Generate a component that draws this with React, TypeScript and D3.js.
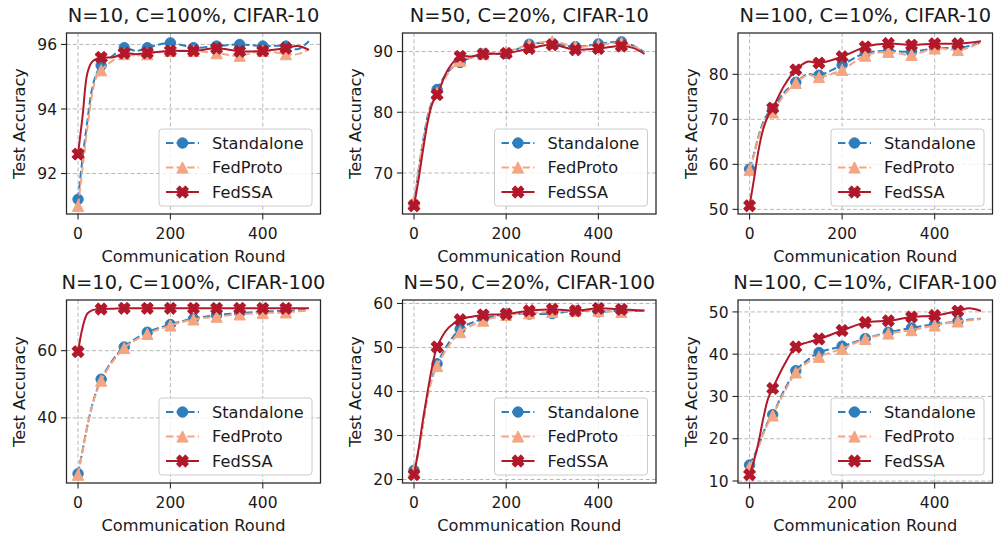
import React from "react";
import * as d3 from "d3";

const ROUNDS = [0, 10, 20, 30, 40, 50, 75, 100, 125, 150, 200, 250, 300, 350, 400, 450, 475, 500];
const MARK_ROUNDS = [0, 50, 100, 150, 200, 250, 300, 350, 400, 450];
const X_TICKS = [0, 200, 400];
const SERIES_NAMES = ["Standalone", "FedProto", "FedSSA"];

const TITLES = [
  "N=10, C=100%, CIFAR-10",
  "N=50, C=20%, CIFAR-10",
  "N=100, C=10%, CIFAR-10",
  "N=10, C=100%, CIFAR-100",
  "N=50, C=20%, CIFAR-100",
  "N=100, C=10%, CIFAR-100",
];

const Y_TICKS = [
  [92, 94, 96],
  [70, 80, 90],
  [50, 60, 70, 80],
  [40, 60],
  [20, 30, 40, 50, 60],
  [10, 20, 30, 40, 50],
];

// Panel 1: N=10, C=100%, CIFAR-10
const p1Standalone = [91.2, 92.5, 93.6, 94.6, 95.1, 95.35, 95.65, 95.9, 95.8, 95.9, 96.05, 95.9, 95.95, 96.0, 95.95, 95.95, 95.85, 96.1];
const p1FedProto = [91.0, 92.2, 93.4, 94.4, 95.0, 95.2, 95.5, 95.7, 95.65, 95.7, 95.8, 95.8, 95.73, 95.65, 95.8, 95.7, 95.7, 95.85];
const p1FedSSA = [92.6, 93.8, 95.1, 95.45, 95.55, 95.6, 95.6, 95.73, 95.7, 95.74, 95.8, 95.8, 95.88, 95.79, 95.8, 95.88, 95.95, 95.83];

// Panel 2: N=50, C=20%, CIFAR-10
const p2Standalone = [64.9, 70.5, 75.5, 79.5, 82.0, 83.75, 86.8, 88.2, 89.0, 89.6, 89.7, 91.2, 91.35, 90.8, 91.25, 91.6, 91.0, 89.9];
const p2FedProto = [65.3, 70.5, 75.2, 79.2, 81.7, 83.2, 86.5, 88.5, 89.0, 89.6, 90.0, 91.1, 91.7, 90.8, 91.1, 91.4, 90.9, 90.0];
const p2FedSSA = [64.6, 69.0, 74.0, 78.5, 81.5, 82.9, 87.2, 89.2, 89.2, 89.6, 89.7, 90.5, 91.1, 90.3, 90.5, 90.9, 90.6, 89.6];

// Panel 3: N=100, C=10%, CIFAR-10
const p3Standalone = [58.95, 62.5, 66.5, 69.5, 71.3, 72.3, 76.0, 78.25, 80.0, 79.8, 82.1, 84.7, 85.2, 85.0, 85.75, 85.9, 86.3, 87.1];
const p3FedProto = [58.8, 62.3, 66.2, 69.0, 70.8, 71.55, 75.5, 78.1, 79.8, 79.4, 81.0, 84.15, 85.0, 84.3, 85.75, 85.4, 86.0, 87.1];
const p3FedSSA = [50.8, 57.0, 63.5, 68.0, 70.8, 72.5, 77.5, 81.0, 82.8, 82.5, 83.9, 86.1, 86.85, 86.5, 86.8, 86.8, 87.0, 87.35];

// Panel 4: N=10, C=100%, CIFAR-100
const p4Standalone = [23.4, 30.5, 37.5, 43.5, 48.0, 51.5, 57.2, 61.1, 63.6, 65.5, 67.8, 69.5, 70.6, 71.2, 71.6, 71.9, 72.0, 72.1];
const p4FedProto = [23.1, 30.2, 37.2, 43.2, 47.7, 51.1, 56.8, 60.8, 63.2, 65.0, 67.5, 69.3, 70.1, 70.8, 71.2, 71.4, 71.7, 71.9];
const p4FedSSA = [59.7, 67.0, 71.0, 72.0, 72.3, 72.4, 72.5, 72.6, 72.6, 72.6, 72.6, 72.6, 72.6, 72.6, 72.6, 72.6, 72.6, 72.6];

// Panel 5: N=50, C=20%, CIFAR-100
const p5Standalone = [22.1, 26.5, 33.0, 39.5, 43.5, 46.3, 51.0, 54.2, 55.6, 56.5, 57.6, 57.6, 57.7, 58.35, 58.1, 58.35, 58.3, 58.35];
const p5FedProto = [22.1, 26.3, 32.6, 39.0, 43.0, 45.8, 50.3, 53.5, 55.0, 56.1, 57.4, 57.8, 58.1, 58.35, 58.35, 58.1, 58.3, 58.5];
const p5FedSSA = [21.1, 27.0, 34.0, 40.3, 46.0, 50.1, 54.5, 56.3, 57.0, 57.4, 57.6, 58.35, 58.7, 58.35, 58.9, 58.65, 58.5, 58.35];

// Panel 6: N=100, C=10%, CIFAR-100
const p6Standalone = [13.8, 16.0, 18.5, 21.5, 24.0, 25.7, 31.5, 36.1, 38.6, 40.4, 41.9, 43.7, 45.2, 46.2, 47.1, 47.75, 48.2, 48.4];
const p6FedProto = [13.3, 15.6, 18.3, 21.2, 23.7, 25.5, 31.0, 35.7, 38.0, 39.4, 41.3, 43.6, 44.9, 45.7, 46.8, 47.75, 48.0, 48.3];
const p6FedSSA = [11.5, 15.0, 19.5, 25.0, 29.5, 31.9, 37.5, 41.7, 42.8, 43.6, 45.6, 47.5, 47.9, 48.8, 49.15, 50.2, 50.85, 50.2];

const PANEL_DATA = [
  [p1Standalone, p1FedProto, p1FedSSA],
  [p2Standalone, p2FedProto, p2FedSSA],
  [p3Standalone, p3FedProto, p3FedSSA],
  [p4Standalone, p4FedProto, p4FedSSA],
  [p5Standalone, p5FedProto, p5FedSSA],
  [p6Standalone, p6FedProto, p6FedSSA],
];

const COLORS = ["#2f7ebc", "#f4a582", "#b2182b"];
const DASHES = ["7.4,3.2", "7.4,3.2", null];

const COLS = [
  { l: 66.5, r: 320.5 },
  { l: 402.5, r: 656 },
  { l: 738, r: 992.5 },
];
const ROWS = [
  { t: 33, b: 214 },
  { t: 300, b: 483 },
];

const FONT = "DejaVu Sans, sans-serif";

function Marker({ kind, x, y, color }: { kind: number; x: number; y: number; color: string }) {
  if (kind === 0) {
    return <circle cx={x} cy={y} r={5.2} fill={color} stroke={color} strokeWidth={1} />;
  }
  if (kind === 1) {
    const s = 5.6;
    const pts = [
      [x, y - s],
      [x - s, y + s],
      [x + s, y + s],
    ];
    return <polygon points={pts.map((p) => p.join(",")).join(" ")} fill={color} stroke={color} strokeWidth={1} />;
  }
  const k = 11.5;
  const v = [
    [0.25, 0], [0.5, 0.25], [0.25, 0.5], [0, 0.25], [-0.25, 0.5], [-0.5, 0.25],
    [-0.25, 0], [-0.5, -0.25], [-0.25, -0.5], [0, -0.25], [0.25, -0.5], [0.5, -0.25],
  ];
  return (
    <polygon
      points={v.map((p) => `${x + p[0] * k},${y + p[1] * k}`).join(" ")}
      fill={color}
      stroke={color}
      strokeWidth={1.2}
      strokeLinejoin="round"
    />
  );
}

function Panel({ idx }: { idx: number }) {
  const col = COLS[idx % 3];
  const row = ROWS[Math.floor(idx / 3)];
  const series = PANEL_DATA[idx];
  const all = series.flat();
  const mn = d3.min(all) as number;
  const mx = d3.max(all) as number;
  const pad = (mx - mn) * 0.05;
  const x = d3.scaleLinear().domain([-25, 525]).range([col.l, col.r]);
  const y = d3.scaleLinear().domain([mn - pad, mx + pad]).range([row.b, row.t]);
  const line = d3
    .line<number>()
    .x((_, i) => x(ROUNDS[i]))
    .y((d) => y(d))
    .curve(d3.curveCatmullRom.alpha(0.5));
  const clipId = `clip${idx}`;
  const lgR = col.r - 8.5;
  const lgB = row.b - 8;
  const lgW = 153;
  const lgH = 77;
  const lgL = lgR - lgW;
  const lgT = lgB - lgH;
  const rowsY = [lgT + 14, lgT + 38.5, lgT + 63];
  const midY = (row.t + row.b) / 2;
  return (
    <g>
      <defs>
        <clipPath id={clipId}>
          <rect x={col.l} y={row.t} width={col.r - col.l} height={row.b - row.t} />
        </clipPath>
      </defs>
      {/* grid */}
      {X_TICKS.map((t) => (
        <line key={"gx" + t} x1={x(t)} x2={x(t)} y1={row.t} y2={row.b} stroke="#b0b0b0" strokeWidth={0.9} strokeDasharray="4,2.4" />
      ))}
      {Y_TICKS[idx].map((t) => (
        <line key={"gy" + t} x1={col.l} x2={col.r} y1={y(t)} y2={y(t)} stroke="#b0b0b0" strokeWidth={0.9} strokeDasharray="4,2.4" />
      ))}
      {/* series */}
      <g clipPath={`url(#${clipId})`}>
        {series.map((vals, si) => (
          <g key={si}>
            <path
              d={line(vals) || ""}
              fill="none"
              stroke={COLORS[si]}
              strokeWidth={2}
              strokeDasharray={DASHES[si] || undefined}
            />
            {MARK_ROUNDS.map((r) => {
              const i = ROUNDS.indexOf(r);
              return <Marker key={r} kind={si} x={x(r)} y={y(vals[i])} color={COLORS[si]} />;
            })}
          </g>
        ))}
      </g>
      {/* spines */}
      <rect x={col.l} y={row.t} width={col.r - col.l} height={row.b - row.t} fill="none" stroke="#262626" strokeWidth={1.25} />
      {/* x ticks */}
      {X_TICKS.map((t) => (
        <g key={"tx" + t}>
          <line x1={x(t)} x2={x(t)} y1={row.b} y2={row.b + 5.5} stroke="#262626" strokeWidth={1.1} />
          <text x={x(t)} y={row.b + 24.5} textAnchor="middle" fontSize={15.5} fontFamily={FONT} fill="#1a1a1a">
            {t}
          </text>
        </g>
      ))}
      {/* y ticks */}
      {Y_TICKS[idx].map((t) => (
        <g key={"ty" + t}>
          <line x1={col.l - 5.5} x2={col.l} y1={y(t)} y2={y(t)} stroke="#262626" strokeWidth={1.1} />
          <text x={col.l - 9.5} y={y(t) + 5.6} textAnchor="end" fontSize={15.5} fontFamily={FONT} fill="#1a1a1a">
            {t}
          </text>
        </g>
      ))}
      {/* labels */}
      <text x={(col.l + col.r) / 2} y={row.b + 47.5} textAnchor="middle" fontSize={16.2} fontFamily={FONT} fill="#1a1a1a">
        Communication Round
      </text>
      <text
        transform={`translate(${col.l - 41.5},${midY}) rotate(-90)`}
        textAnchor="middle"
        fontSize={16.2}
        fontFamily={FONT}
        fill="#1a1a1a"
      >
        Test Accuracy
      </text>
      <text x={(col.l + col.r) / 2} y={row.t - 11.3} textAnchor="middle" fontSize={19.4} fontFamily={FONT} fill="#1a1a1a">
        {TITLES[idx]}
      </text>
      {/* legend */}
      <rect x={lgL} y={lgT} width={lgW} height={lgH} rx={3} ry={3} fill="white" fillOpacity={0.8} stroke="#cccccc" strokeWidth={1} />
      {SERIES_NAMES.map((name, si) => (
        <g key={name}>
          <line
            x1={lgL + 7}
            x2={lgL + 40}
            y1={rowsY[si]}
            y2={rowsY[si]}
            stroke={COLORS[si]}
            strokeWidth={2}
            strokeDasharray={DASHES[si] || undefined}
          />
          <Marker kind={si} x={lgL + 23.5} y={rowsY[si]} color={COLORS[si]} />
          <text x={lgL + 53} y={rowsY[si] + 5.8} fontSize={16.2} fontFamily={FONT} fill="#1a1a1a">
            {name}
          </text>
        </g>
      ))}
    </g>
  );
}

export default function App() {
  return (
    <svg
      width={1006}
      height={537}
      viewBox="0 0 1006 537"
      style={{ position: "absolute", left: 0, top: 0, background: "white" }}
    >
      <rect x={0} y={0} width={1006} height={537} fill="white" />
      {[0, 1, 2, 3, 4, 5].map((i) => (
        <Panel key={i} idx={i} />
      ))}
    </svg>
  );
}
